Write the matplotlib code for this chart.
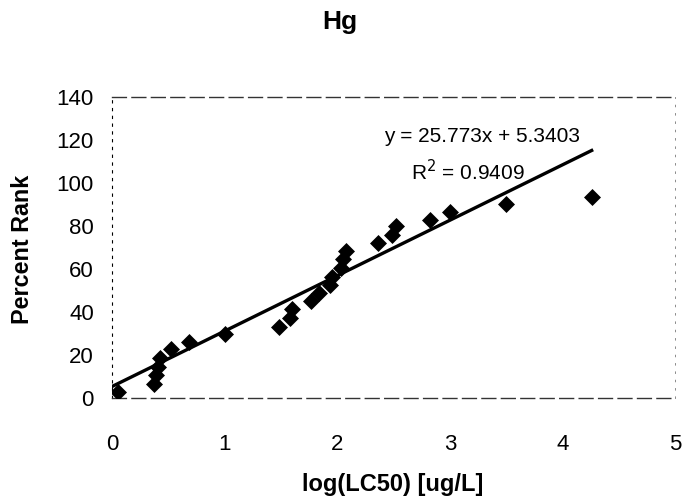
import matplotlib
matplotlib.use("Agg")
import matplotlib.pyplot as plt
import numpy as np

plt.rcParams['font.family'] = ['Liberation Sans', 'DejaVu Sans']

log_lc50 = [0.05, 0.37, 0.39, 0.41, 0.43, 0.52, 0.68, 1.00, 1.48, 1.58, 1.60,
            1.77, 1.84, 1.94, 1.95, 2.03, 2.05, 2.08, 2.36, 2.49, 2.52, 2.82,
            3.00, 3.50, 4.26]
percent_rank = [2.9, 6.5, 10.7, 14.6, 18.7, 22.6, 26.2, 29.6, 33.2, 37.0, 41.4,
                45.2, 48.8, 52.5, 56.5, 60.5, 64.5, 68.6, 72.2, 75.8, 80.0, 83.0,
                86.7, 90.2, 93.6]
slope = 25.773
intercept = 5.3403
r2 = 0.9409

x_ticks = [0, 1, 2, 3, 4, 5]
y_ticks = [0, 20, 40, 60, 80, 100, 120, 140]

fig = plt.figure(figsize=(6.85, 5.0), dpi=100)
ax = fig.add_axes([112/685, 102/500, 563/685, 301/500])

ax.scatter(log_lc50, percent_rank, marker='D', s=75, color='black', zorder=3,
           linewidths=0)
xl = np.array([0, max(log_lc50)])
ax.plot(xl, slope * xl + intercept, color='black', lw=2.4, zorder=2)

ax.set_xlim(0, 5)
ax.set_ylim(0, 140)
ax.set_xticks(x_ticks)
ax.set_yticks(y_ticks)
ax.tick_params(axis='both', length=0, labelsize=16)
ax.tick_params(axis='y', pad=13)
ax.tick_params(axis='x', pad=26)

for side in ['top', 'bottom']:
    ax.spines[side].set_linestyle((0, (10, 4)))
    ax.spines[side].set_linewidth(1.0)
    ax.spines[side].set_color('#333333')
ax.spines['left'].set_linestyle((0, (2, 5)))
ax.spines['left'].set_linewidth(0.8)
ax.spines['right'].set_linestyle((0, (2, 8)))
ax.spines['right'].set_linewidth(0.6)
ax.spines['right'].set_color('#777777')

fig.text(393/685, 1 - 485/500, 'log(LC50) [ug/L]', fontsize=17,
         fontweight='bold', ha='center', va='center')
fig.text(23/685, 1 - 249/500, 'Percent Rank', fontsize=16.8,
         fontweight='bold', ha='center', va='center', rotation=90)
fig.text(340/685, 1 - 22/500, 'Hg', fontsize=19, fontweight='bold',
         ha='center', va='center')

ax.text(3.29, 121.5, f'y = {slope}x + {intercept}', fontsize=15,
        ha='center', va='center')
ax.text(3.16, 105.5, f'R$^2$ = {r2}', fontsize=15, ha='center', va='center')

fig.savefig('out.png', dpi=100)
